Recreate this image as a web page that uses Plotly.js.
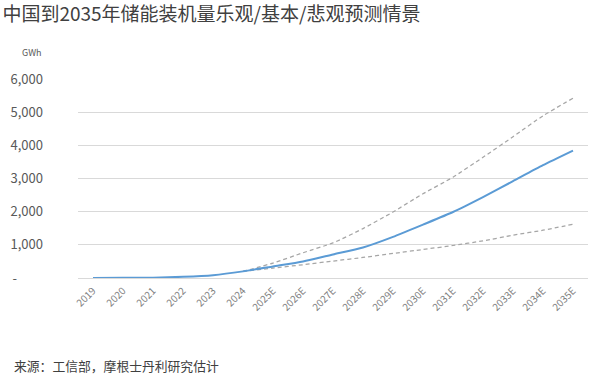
<!DOCTYPE html>
<html>
<head>
<meta charset="utf-8">
<script src="https://cdn.plot.ly/plotly-3.0.1.min.js"></script>
<style>
html,body{margin:0;padding:0;background:#fff;}
#chart{width:600px;height:384px;}
</style>
</head>
<body>
<div id="chart"></div>
<script>
var categories = ["2019","2020","2021","2022","2023","2024","2025E","2026E","2027E","2028E","2029E","2030E","2031E","2032E","2033E","2034E","2035E"];
var baseCase = [2, 5, 10, 35, 85, 200, 350, 500, 710, 920, 1240, 1610, 1990, 2440, 2920, 3400, 3840];
var bullCase = [null, null, null, null, null, 200, 450, 760, 1060, 1490, 1990, 2540, 3040, 3640, 4260, 4890, 5420];
var bearCase = [null, null, null, null, null, 200, 300, 400, 510, 620, 740, 860, 980, 1120, 1290, 1440, 1620];
var yTickVals = [0, 1000, 2000, 3000, 4000, 5000, 6000];
var yTickText = ["-\u2003\u2003", "1,000", "2,000", "3,000", "4,000", "5,000", "6,000"];

var font = "Noto Sans CJK SC, Noto Sans, sans-serif";

var traces = [
  {x: categories, y: bullCase, type: "scatter", mode: "lines", name: "乐观",
   line: {color: "#a6a6a6", width: 1.25, dash: "4px,3px", shape: "spline", smoothing: 0.6}, connectgaps: false},
  {x: categories, y: bearCase, type: "scatter", mode: "lines", name: "悲观",
   line: {color: "#a6a6a6", width: 1.25, dash: "4px,3px", shape: "spline", smoothing: 0.6}, connectgaps: false},
  {x: categories, y: baseCase, type: "scatter", mode: "lines", name: "基本",
   line: {color: "#5b9bd5", width: 2, shape: "spline", smoothing: 0.6}}
];

var layout = {
  width: 600, height: 384,
  paper_bgcolor: "#fff", plot_bgcolor: "#fff",
  showlegend: false,
  margin: {l: 78, r: 12, t: 79, b: 106, pad: 0},
  font: {family: font, color: "#595959"},
  title: {text: "中国到2035年储能装机量乐观/基本/悲观预测情景", x: 0.004, xref: "container", xanchor: "left",
          y: 0.963, yref: "container", yanchor: "middle", pad: {l: 0, t: 0, b: 0, r: 0},
          font: {family: font, size: 19, color: "#404040"}},
  xaxis: {
    type: "category", categoryorder: "array", categoryarray: categories,
    range: [-0.5, 16.5],
    tickangle: -45, tickfont: {size: 10, color: "#7f7f7f", family: font},
    showgrid: false, showline: false, zeroline: false, ticks: "", ticklabelstandoff: 4
  },
  yaxis: {
    range: [0, 6000], tickvals: yTickVals, ticktext: yTickText,
    tickfont: {size: 13, color: "#595959", family: font},
    showgrid: true, gridcolor: "#d9d9d9", gridwidth: 1,
    zeroline: true, zerolinecolor: "#d9d9d9", zerolinewidth: 1,
    showline: false, ticks: "", ticklabelstandoff: 34
  },
  annotations: [
    {text: "GWh", xref: "paper", yref: "paper", x: -0.113, y: 1.135, xanchor: "left", yanchor: "middle",
     showarrow: false, font: {size: 9, color: "#595959", family: font}},
    {text: "来源：工信部，摩根士丹利研究估计", xref: "paper", yref: "paper", x: -0.13, xanchor: "left",
     y: -0.44, yanchor: "middle", showarrow: false, font: {size: 12.8, color: "#404040", family: font}}
  ]
};

Plotly.newPlot("chart", traces, layout, {displayModeBar: false, staticPlot: true});
</script>
</body>
</html>
